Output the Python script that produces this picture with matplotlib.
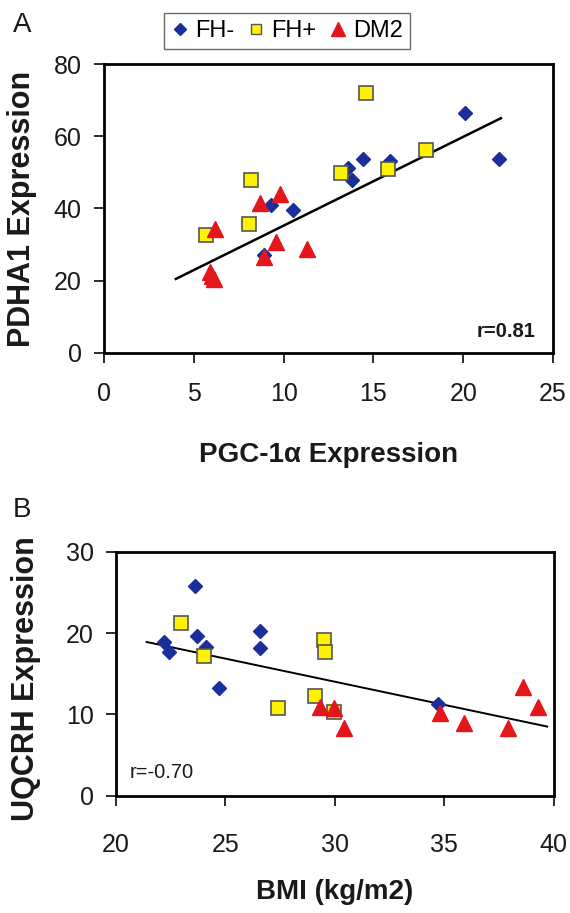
import numpy as np
import matplotlib.pyplot as plt
from matplotlib.lines import Line2D

plt.rcParams['font.family'] = ['Liberation Sans', 'DejaVu Sans']

# Panel A: PGC-1a vs PDHA1
a_fhneg_x = [20.1, 22.0, 14.4, 15.9, 13.6, 13.8, 9.3, 10.5, 8.9]
a_fhneg_y = [66.3, 53.8, 53.8, 53.1, 51.3, 47.9, 40.9, 39.7, 27.2]
a_fhpos_x = [14.6, 17.9, 15.8, 13.2, 8.2, 8.1, 5.7]
a_fhpos_y = [72.1, 56.2, 50.8, 49.9, 47.9, 35.6, 32.6]
a_dm2_x = [9.8, 8.7, 6.2, 9.6, 11.3, 8.9, 5.9, 6.1, 6.0]
a_dm2_y = [43.9, 41.4, 34.4, 30.6, 28.8, 26.6, 22.4, 20.6, 21.3]
a_fit_x = [4.0, 22.1]
a_fit_y = [20.5, 65.0]

# Panel B: BMI vs UQCRH
b_fhneg_x = [23.6, 22.2, 22.4, 23.7, 24.1, 24.7, 26.6, 26.6, 34.7]
b_fhneg_y = [25.8, 18.9, 17.7, 19.6, 18.3, 13.3, 20.3, 18.2, 11.3]
b_fhpos_x = [22.95, 24.0, 29.5, 29.55, 27.4, 29.1, 29.95]
b_fhpos_y = [21.2, 17.2, 19.15, 17.7, 10.75, 12.2, 10.3]
b_dm2_x = [29.3, 29.95, 30.4, 34.8, 35.9, 37.9, 38.6, 39.3]
b_dm2_y = [10.9, 10.75, 8.3, 10.2, 8.9, 8.3, 13.4, 10.95]
b_fit_x = [21.4, 39.7]
b_fit_y = [18.9, 8.5]

blue = '#1b2f9b'
yellow = '#fff200'
red = '#e3161b'

def Tocke(ax, fx, fy, px, py, dx, dy):
    ax.plot(fx, fy, 'D', color=blue, markersize=7.5, markeredgecolor=blue, zorder=3)
    ax.plot(px, py, 's', color=yellow, markersize=9.5, markeredgecolor='#555555', markeredgewidth=1.2, zorder=3)
    ax.plot(dx, dy, '^', color=red, markersize=11, markeredgecolor=red, zorder=4)

def Uredi(ax, xpad, ypad):
    for s in ax.spines.values():
        s.set_linewidth(2)
    ax.tick_params(direction='out', length=7, width=1.3, labelsize=18, colors='#1a1a1a')
    ax.tick_params(axis='x', pad=xpad)
    ax.tick_params(axis='y', pad=ypad)

fig = plt.figure(figsize=(5.7, 9.13), dpi=100)

axA = fig.add_axes([0.1825, 0.6134, 0.7877, 0.3165])
axA.plot(a_fit_x, a_fit_y, color='black', linewidth=1.8, zorder=2)
Tocke(axA, a_fhneg_x, a_fhneg_y, a_fhpos_x, a_fhpos_y, a_dm2_x, a_dm2_y)
axA.set_xlim(0, 25)
axA.set_ylim(0, 80)
axA.set_xticks([0, 5, 10, 15, 20, 25])
axA.set_yticks([0, 20, 40, 60, 80])
Uredi(axA, 14, 9)
axA.set_xlabel("PGC-1α Expression", fontsize=20, fontweight='bold', labelpad=26, color='#1a1a1a')
axA.set_ylabel("PDHA1 Expression", fontsize=22, fontweight='bold', labelpad=12, color='#1a1a1a')
axA.text(0.96, 0.04, "r=0.81", transform=axA.transAxes, ha='right', va='bottom', fontsize=14.5, fontweight='bold', color='#1a1a1a')

axB = fig.add_axes([0.2035, 0.1285, 0.768, 0.2672])
axB.plot(b_fit_x, b_fit_y, color='black', linewidth=1.4, zorder=2)
Tocke(axB, b_fhneg_x, b_fhneg_y, b_fhpos_x, b_fhpos_y, b_dm2_x, b_dm2_y)
axB.set_xlim(20, 40)
axB.set_ylim(0, 30)
axB.set_xticks([20, 25, 30, 35, 40])
axB.set_yticks([0, 10, 20, 30])
Uredi(axB, 20, 9)
axB.set_xlabel("BMI (kg/m2)", fontsize=20, fontweight='bold', labelpad=16, color='#1a1a1a')
axB.set_ylabel("UQCRH Expression", fontsize=22, fontweight='bold', color='#1a1a1a', va='center')
axB.yaxis.set_label_coords(-0.205, 0.48)
axB.text(0.03, 0.057, "r=-0.70", transform=axB.transAxes, ha='left', va='bottom', fontsize=14.5, color='#1a1a1a')

fig.text(0.023, 0.987, "A", fontsize=20, va='top', color='#1a1a1a')
fig.text(0.023, 0.4556, "B", fontsize=20, va='top', color='#1a1a1a')

handles = [
    Line2D([], [], linestyle='none', marker='D', color=blue, markersize=6.5),
    Line2D([], [], linestyle='none', marker='s', color=yellow, markeredgecolor='#555555', markersize=7.5),
    Line2D([], [], linestyle='none', marker='^', color=red, markersize=10),
]
fig.legend(handles, ["FH-", "FH+", "DM2"], ncol=3, loc='center', bbox_to_anchor=(0.503, 0.966),
           fontsize=17, frameon=True, fancybox=False, edgecolor='#444444', handlelength=0.8,
           handletextpad=0.25, columnspacing=0.5, borderpad=0.3)

fig.savefig("out.png", dpi=100)
